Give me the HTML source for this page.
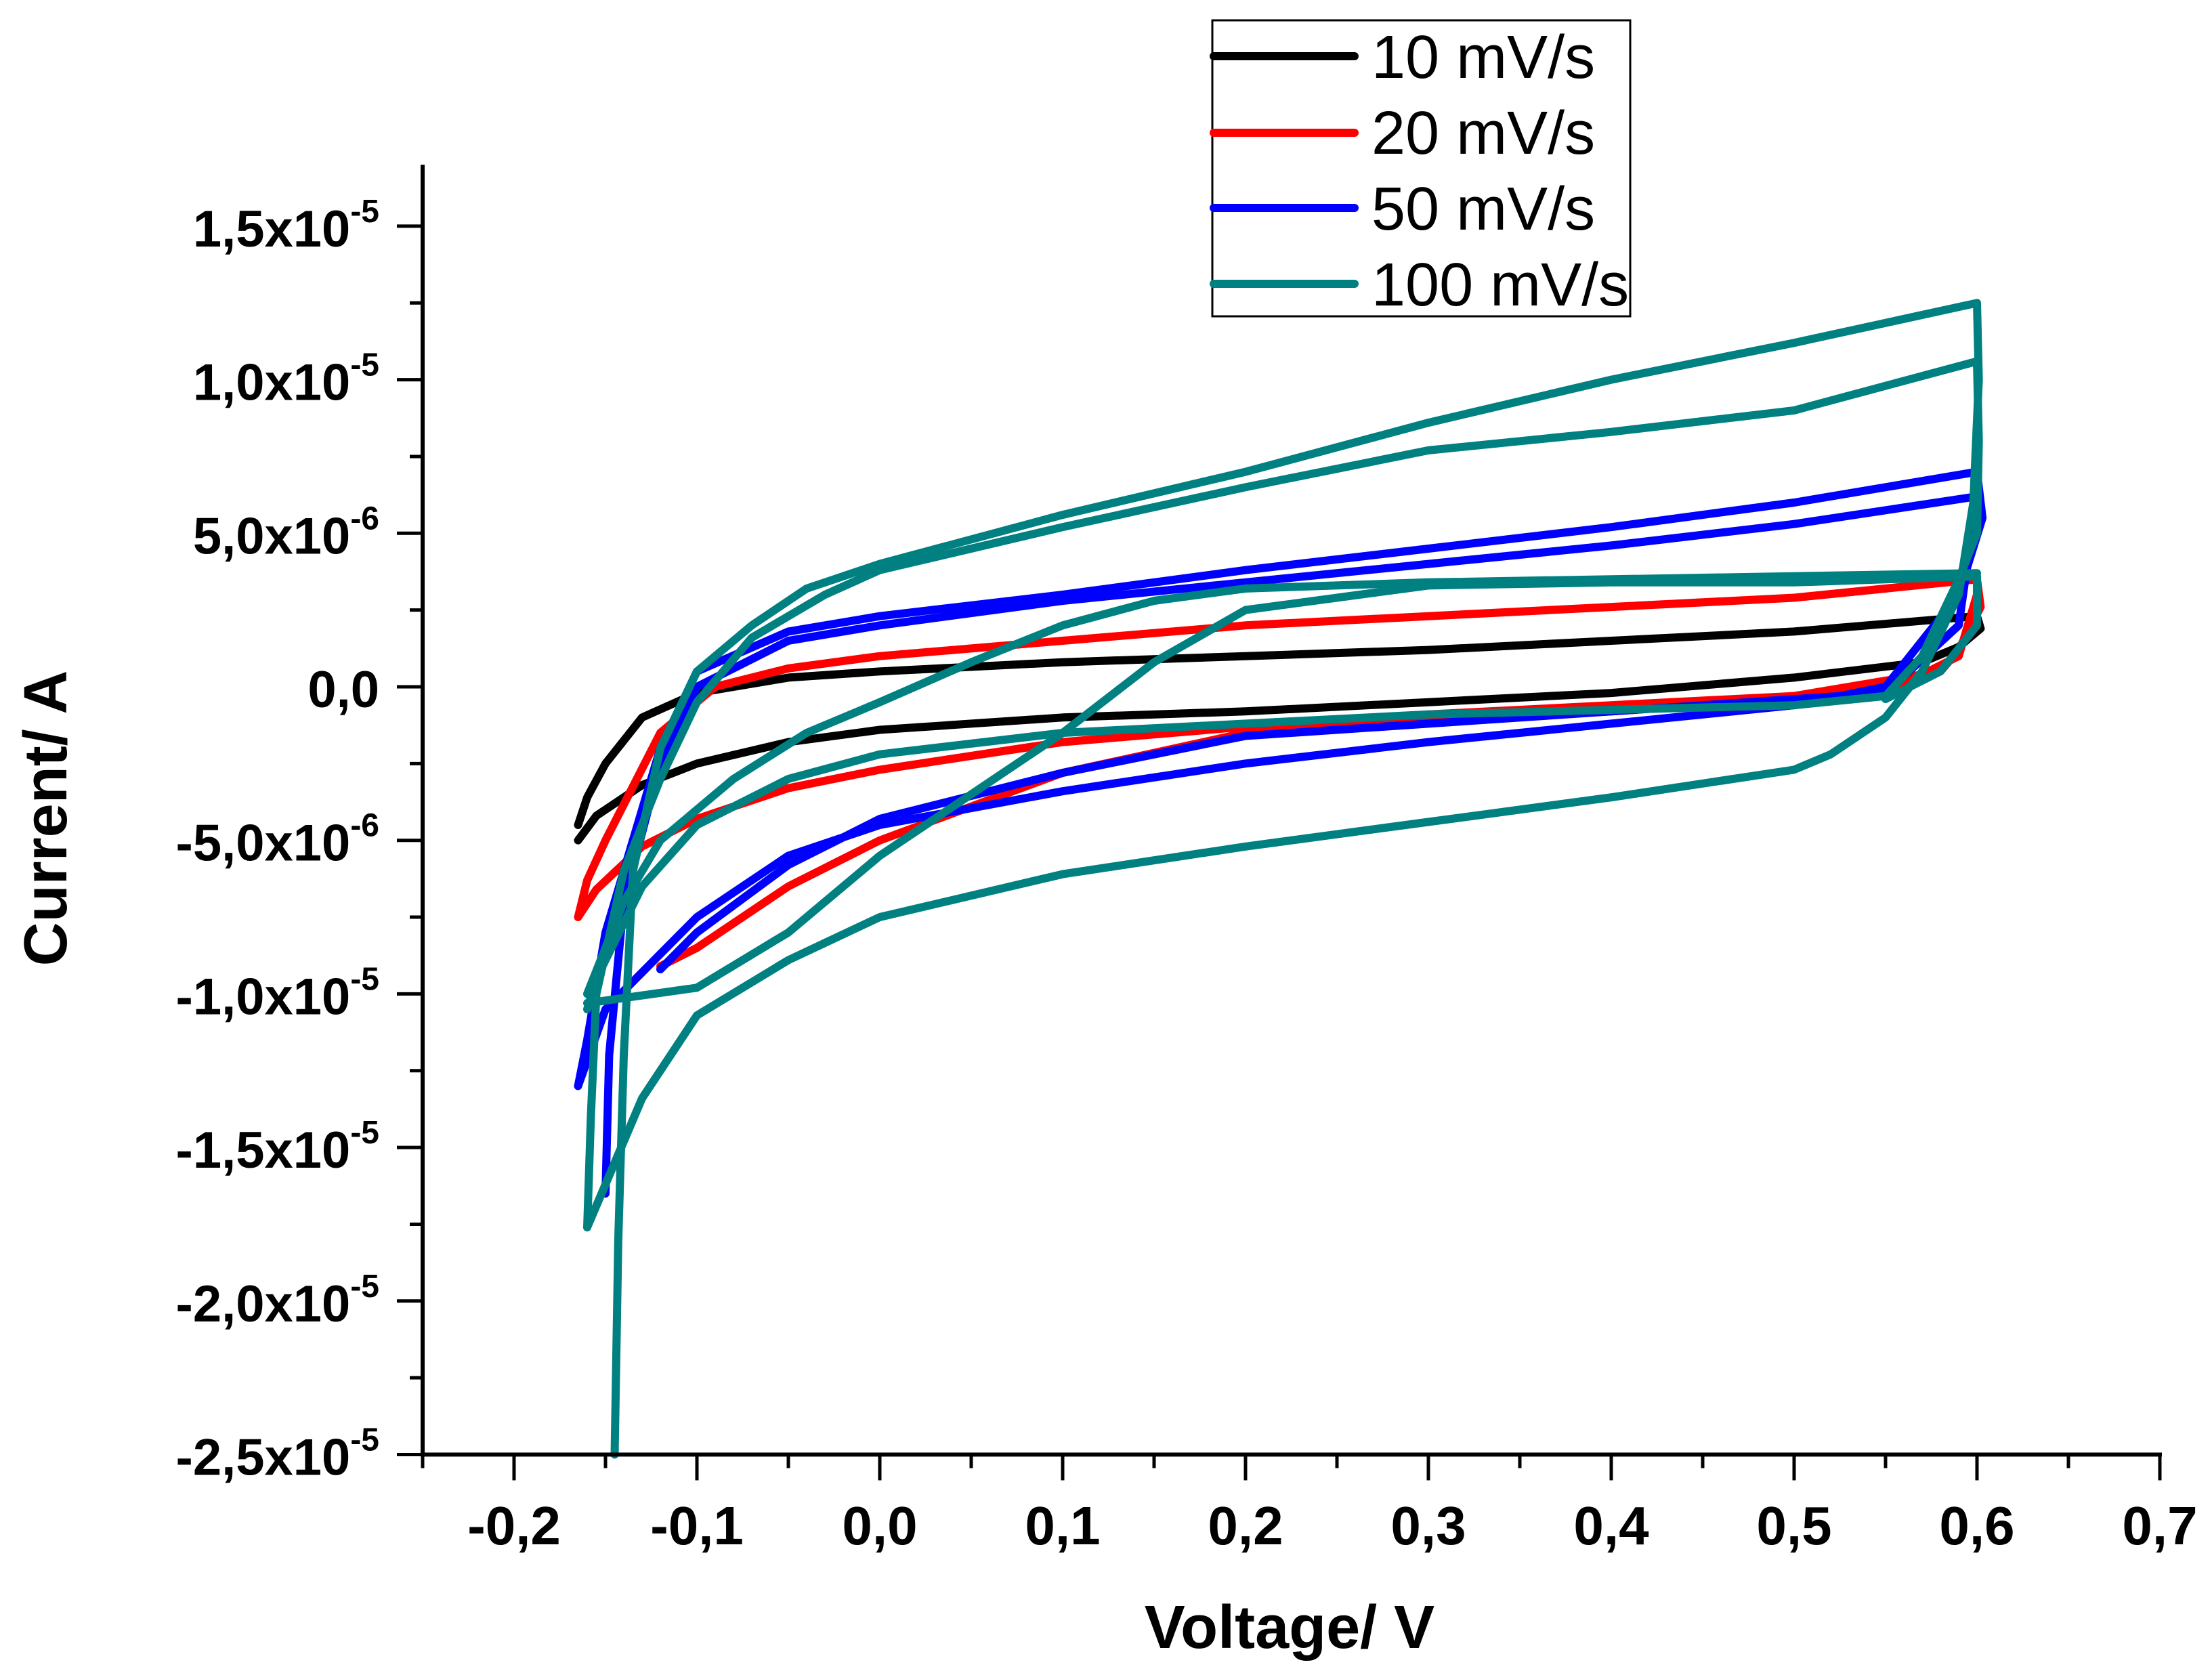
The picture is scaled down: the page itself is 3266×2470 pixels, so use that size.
<!DOCTYPE html>
<html><head><meta charset="utf-8"><style>
html,body{margin:0;padding:0;background:#fff;}
svg{display:block;font-family:"Liberation Sans",Arial,sans-serif;}
</style></head><body>
<svg id="chart" width="3266" height="2470" viewBox="0 0 3266 2470" xmlns="http://www.w3.org/2000/svg">
<rect x="0" y="0" width="3266" height="2470" fill="#fff"/>
<g id="plot"></g>
<g id="axes"></g>
<text x="1904" y="2433" font-size="90" font-weight="bold" text-anchor="middle">Voltage/ V</text>
<text transform="translate(98,1208) rotate(-90)" font-size="90" font-weight="bold" text-anchor="middle">Current/ A</text>
<g>
<rect x="1790" y="30" width="617" height="437" fill="#fff" stroke="#000" stroke-width="3"/>
<line x1="1792" y1="83" x2="2000" y2="83" stroke="#000" stroke-width="12" stroke-linecap="round"/>
<text x="2025" y="115" font-size="90">10 mV/s</text>
<line x1="1792" y1="196" x2="2000" y2="196" stroke="#ff0000" stroke-width="12" stroke-linecap="round"/>
<text x="2025" y="227" font-size="90">20 mV/s</text>
<line x1="1792" y1="307" x2="2000" y2="307" stroke="#0000ff" stroke-width="12" stroke-linecap="round"/>
<text x="2025" y="339" font-size="90">50 mV/s</text>
<line x1="1792" y1="419" x2="2000" y2="419" stroke="#008080" stroke-width="12" stroke-linecap="round"/>
<text x="2025" y="451" font-size="90">100 mV/s</text>
</g>
</svg>
<script>
// Axis ticks (current in µA)
const xTicks = [-0.2,-0.1,0.0,0.1,0.2,0.3,0.4,0.5,0.6,0.7];
const xTickLabels = ["-0,2","-0,1","0,0","0,1","0,2","0,3","0,4","0,5","0,6","0,7"];
const yTicks = [-25,-20,-15,-10,-5,0,5,10,15];
const yTickMain = ["-2,5x10","-2,0x10","-1,5x10","-1,0x10","-5,0x10","0,0","5,0x10","1,0x10","1,5x10"];
const yTickExp = ["-5","-5","-5","-5","-6","","-6","-5","-5"];

// 10 mV/s
const v10a = [-0.165,-0.16,-0.15,-0.13,-0.1,-0.05,0,0.1,0.2,0.3,0.4,0.5,0.6,0.602,0.59,0.57,0.5,0.4,0.3,0.2,0.1,0,-0.05,-0.1,-0.13,-0.155,-0.165];
const i10a = [-4.5,-3.6,-2.5,-1.0,-0.2,0.3,0.5,0.8,1.0,1.2,1.5,1.8,2.3,1.9,1.3,0.8,0.3,-0.2,-0.5,-0.8,-1.0,-1.4,-1.8,-2.5,-3.2,-4.2,-5.0];
// 20 mV/s
const v20a = [-0.165,-0.16,-0.15,-0.12,-0.09,-0.05,0,0.1,0.2,0.3,0.4,0.5,0.6,0.602,0.59,0.58,0.5,0.4,0.3,0.2,0.1,0,-0.05,-0.1,-0.13,-0.155,-0.165];
const i20a = [-7.5,-6.3,-5.0,-1.5,0,0.6,1.0,1.5,2.0,2.3,2.6,2.9,3.5,2.6,1.2,0.5,-0.3,-0.6,-0.9,-1.3,-1.8,-2.7,-3.3,-4.3,-5.2,-6.6,-7.5];
const v20b = [0.6,0.59,0.55,0.4,0.2,0.1,0.05,0,-0.05,-0.1,-0.12];
const i20b = [3.0,1.0,-0.2,-0.8,-1.5,-2.8,-3.9,-5.0,-6.5,-8.5,-9.1];
// 50 mV/s
const v50a = [-0.165,-0.16,-0.15,-0.12,-0.1,-0.05,0,0.1,0.2,0.3,0.4,0.5,0.6,0.603,0.59,0.55,0.5,0.4,0.3,0.2,0.1,0,-0.05,-0.1,-0.15,-0.165];
const i50a = [-13.0,-11.5,-8.0,-2.0,0.5,1.8,2.3,3.0,3.8,4.5,5.2,6.0,7.0,5.5,3.0,0,-0.6,-1.2,-1.8,-2.5,-3.4,-4.5,-5.5,-7.5,-10.5,-13.0];
const v50b = [-0.15,-0.148,-0.14,-0.12,-0.1,-0.05,0,0.1,0.2,0.3,0.4,0.5,0.6,0.59,0.55,0.4,0.2,0.1,0,-0.05,-0.1,-0.12];
const i50b = [-16.5,-12.0,-7.0,-2.5,0,1.5,2.0,2.8,3.4,4.0,4.6,5.3,6.2,2.0,-0.2,-0.8,-1.6,-2.8,-4.3,-5.8,-8.0,-9.2];
// 100 mV/s
const v100a = [-0.145,-0.143,-0.14,-0.135,-0.12,-0.1,-0.07,-0.04,0,0.1,0.2,0.3,0.4,0.5,0.6,0.601,0.598,0.59,0.57,0.55,0.52,0.5,0.4,0.3,0.2,0.1,0,-0.05,-0.1,-0.13,-0.16];
const i100a = [-25,-18,-12,-6,-2,0.5,2.0,3.2,4.0,5.6,7.0,8.6,10.0,11.2,12.5,10,6,3,0.5,-1.0,-2.2,-2.7,-3.6,-4.4,-5.2,-6.1,-7.5,-8.9,-10.7,-13.4,-17.6];
const v100b = [-0.16,-0.158,-0.155,-0.14,-0.12,-0.1,-0.07,-0.03,0,0.1,0.2,0.3,0.4,0.5,0.6,0.601,0.6,0.59,0.57,0.55,0.5,0.3,0.1,0,-0.05,-0.1,-0.13,-0.155,-0.16];
const i100b = [-17.6,-14,-10,-6,-3,-0.5,1.6,3.0,3.8,5.2,6.5,7.7,8.3,9.0,10.6,8,5,3.5,1.0,-0.3,-0.6,-0.9,-1.5,-2.2,-3.0,-4.5,-6.5,-9.5,-10.5];
const v100c = [-0.16,-0.1,-0.05,0,0.05,0.1,0.15,0.2,0.3,0.4,0.5,0.6,0.6,0.58,0.55];
const i100c = [-10.3,-9.8,-8.0,-5.5,-3.5,-1.5,0.8,2.5,3.3,3.4,3.4,3.6,2.0,0.5,-0.4];
const v100d = [-0.16,-0.14,-0.12,-0.08,-0.04,0,0.05,0.1,0.15,0.2,0.3,0.6];
const i100d = [-10,-7,-5,-3,-1.5,-0.5,0.8,2.0,2.8,3.2,3.4,3.7];

const NS = "http://www.w3.org/2000/svg";
function xs(v){ return 1299 + v*2700; }
function ys(i){ return 1014 - i*45.34; }

const plot = document.getElementById('plot');
const axes = document.getElementById('axes');

function drawSeries(vs, is, color, name){
  const p = document.createElementNS(NS,'polyline');
  p.setAttribute('points', vs.map((v,k)=>xs(v).toFixed(1)+','+ys(is[k]).toFixed(1)).join(' '));
  p.setAttribute('fill','none');
  p.setAttribute('stroke',color);
  p.setAttribute('stroke-width','12');
  p.setAttribute('stroke-linejoin','round');
  p.setAttribute('stroke-linecap','round');
  
  
  plot.appendChild(p);
}
drawSeries(v10a,i10a,'#000000','series-10mvs');
drawSeries(v20a,i20a,'#ff0000','series-20mvs');
drawSeries(v20b,i20b,'#ff0000','series-20mvs-cycle2');
drawSeries(v50a,i50a,'#0000ff','series-50mvs');
drawSeries(v50b,i50b,'#0000ff','series-50mvs-cycle2');
drawSeries(v100a,i100a,'#008080','series-100mvs');
drawSeries(v100b,i100b,'#008080','series-100mvs-cycle2');
drawSeries(v100c,i100c,'#008080','series-100mvs-cycle3');
drawSeries(v100d,i100d,'#008080','series-100mvs-cycle4');

function line(x1,y1,x2,y2,w,name){
  const l = document.createElementNS(NS,'line');
  l.setAttribute('x1',x1); l.setAttribute('y1',y1);
  l.setAttribute('x2',x2); l.setAttribute('y2',y2);
  l.setAttribute('stroke','#000'); l.setAttribute('stroke-width',w);
  
  
  axes.appendChild(l);
}
const x0 = xs(-0.25), yTop = ys(17), yBot = ys(-25), xRight = xs(0.7);
line(x0, yTop, x0, yBot+3, 6, 'y-axis');
line(x0-3, yBot, xRight+3, yBot, 6, 'x-axis');

for (let k=-0.25; k<=0.7001; k+=0.05){
  const major = Math.abs(Math.round(k*10) - k*10) < 1e-6;
  line(xs(k), yBot, xs(k), yBot + (major?38:20), 5, major?'x-major-tick':'x-minor-tick');
}
xTicks.forEach((v,k)=>{
  const t = document.createElementNS(NS,'text');
  t.setAttribute('x', xs(v)); t.setAttribute('y', 2280);
  t.setAttribute('font-size','80'); t.setAttribute('font-weight','bold');
  t.setAttribute('text-anchor','middle');
  t.textContent = xTickLabels[k];
  
  
  axes.appendChild(t);
});
for (let i=-25; i<=15.001; i+=2.5){
  const major = Math.abs(i % 5) < 1e-6;
  line(x0 - (major?38:19), ys(i), x0, ys(i), 5, major?'y-major-tick':'y-minor-tick');
}
yTicks.forEach((v,k)=>{
  const t = document.createElementNS(NS,'text');
  t.setAttribute('x', 560); t.setAttribute('y', ys(v)+30);
  t.setAttribute('font-size','76'); t.setAttribute('font-weight','bold');
  t.setAttribute('text-anchor','end');
  t.appendChild(document.createTextNode(yTickMain[k]));
  if (yTickExp[k]) {
    const s = document.createElementNS(NS,'tspan');
    s.setAttribute('font-size','48'); s.setAttribute('dy','-36');
    s.textContent = yTickExp[k];
    t.appendChild(s);
  }
  
  
  axes.appendChild(t);
});
</script>
</body></html>
